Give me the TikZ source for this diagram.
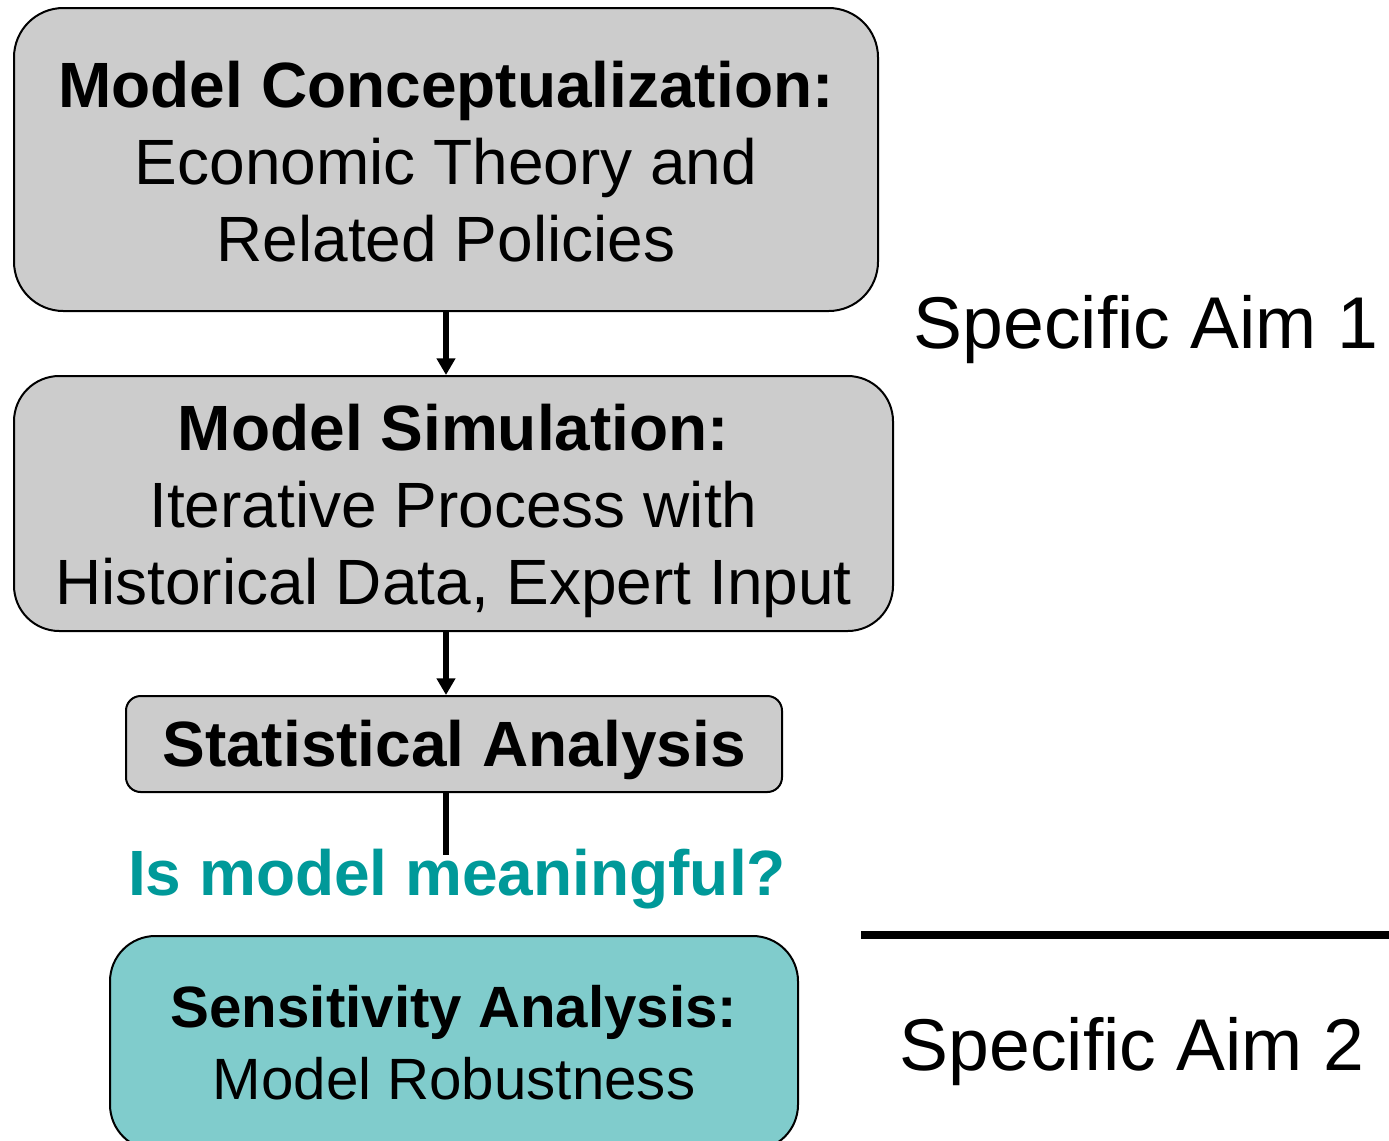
\documentclass[tikz,border=0pt]{standalone}
\usepackage{fontspec}
\setmainfont{Liberation Sans}
\usetikzlibrary{arrows.meta}
\definecolor{boxgray}{RGB}{204,204,204}
\definecolor{boxteal}{RGB}{128,204,204}
\definecolor{textteal}{RGB}{0,153,153}
\tikzset{
  x=0.75pt, y=-0.75pt,
  stagebox/.style={draw=black, line width=1.5pt, fill=boxgray, inner sep=0pt},
  stagetext/.style={align=center, inner sep=0pt},
  bigtext/.style={font=\fontsize{48}{57.75}\selectfont},
  flowarrow/.style={line width=4pt, -{Triangle[width=13.5pt,length=12.5pt]}},
  flowline/.style={line width=4pt},
  aimtext/.style={font=\fontsize{55}{66}\selectfont, anchor=base}
}
\begin{document}
\begin{tikzpicture}
\clip (0,0) rectangle (1389,1140);
\fill[white] (0,0) rectangle (1389,1140);

% process stages: frames
\node[stagebox, rounded corners=37pt, minimum width=648pt, minimum height=227.25pt]
  (concept) at (446,159.5) {};
\node[stagebox, rounded corners=34pt, minimum width=659.25pt, minimum height=191.25pt]
  (sim) at (453.5,503.5) {};
\node[stagebox, rounded corners=11pt, minimum width=492pt, minimum height=72pt]
  (stats) at (454,744) {};
\node[stagebox, fill=boxteal, rounded corners=34pt, minimum width=516pt, minimum height=160.5pt]
  (sens) at (454,1043) {};

% process stages: contents
\node[stagetext, bigtext] (concepttext) at (446,161.5)
  {\textbf{Model Conceptualization:}\\Economic Theory and\\Related Policies};
\node[stagetext, bigtext] (simtext) at (453.5,511)
  {\textbf{Model Simulation:}\\Iterative Process with\\Historical Data, Expert Input};
\node[stagetext, bigtext] (statstext) at (454,750)
  {\textbf{Statistical Analysis}};
\node[stagetext, font=\fontsize{43.7}{54}\selectfont] (senstext) at (454,1043)
  {\textbf{Sensitivity Analysis:}\\Model Robustness};

% decision question
\node[bigtext, text=textteal, anchor=base, inner sep=0pt] (question) at (457,895)
  {\textbf{Is model meaningful?}};
\coordinate (qtop) at (446,855);

% connectors
\draw[flowarrow] (concept.south) -- (concept.south |- sim.north);
\draw[flowarrow] (concept.south |- sim.south) -- (concept.south |- stats.north);
\draw[flowline] (concept.south |- stats.south) -- (qtop);

% aim separator and labels
\coordinate (sepL) at (861,935);
\coordinate (sepR) at (1389,935);
\draw[line width=6pt] (sepL) -- (sepR);
\node[aimtext, inner sep=0pt] (aim1) at (1146,348) {Specific Aim 1};
\node[aimtext, inner sep=0pt] (aim2) at (1132,1070) {Specific Aim 2};
\end{tikzpicture}
\end{document}
